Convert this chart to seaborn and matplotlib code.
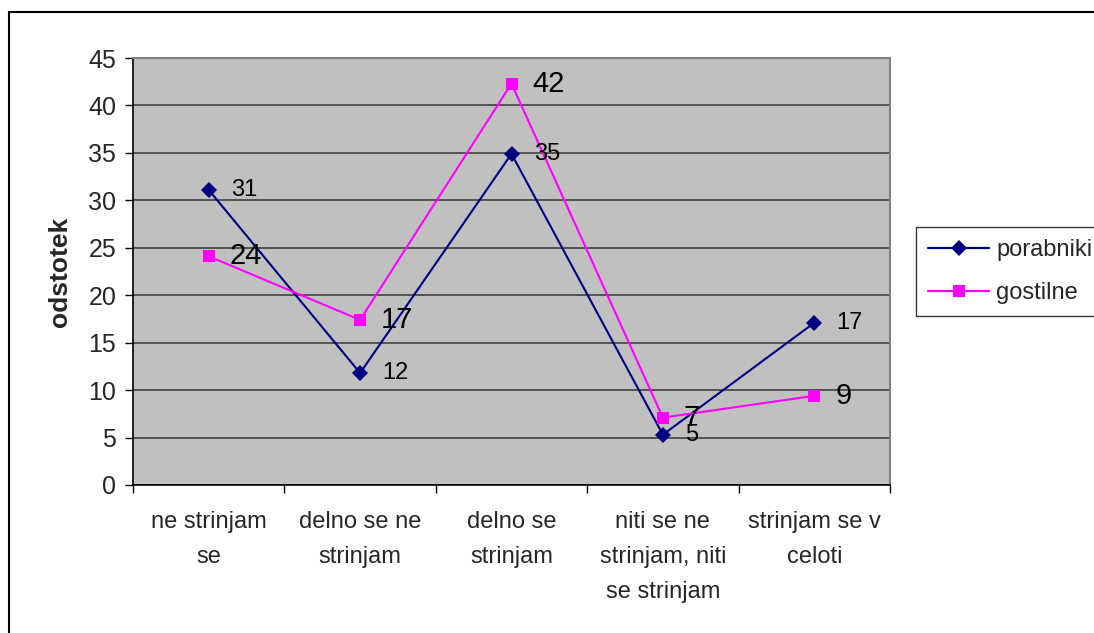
import numpy as np
import pandas as pd
import matplotlib
matplotlib.use("Agg")
import matplotlib.pyplot as plt
from matplotlib.patches import Rectangle
from matplotlib.lines import Line2D
import seaborn as sns

# Survey answers (percent of respondents)
categories = [
    "ne strinjam\nse",
    "delno se ne\nstrinjam",
    "delno se\nstrinjam",
    "niti se ne\nstrinjam, niti\nse strinjam",
    "strinjam se v\nceloti",
]
porabniki = [31.1, 11.8, 34.9, 5.3, 17.1]
gostilne = [24.1, 17.4, 42.3, 7.1, 9.4]
series_names = ["porabniki", "gostilne"]
y_ticks = [0, 5, 10, 15, 20, 25, 30, 35, 40, 45]

navy = "#000080"
magenta = "#FF00FF"

sns.set_theme(style="white")
plt.rcParams["font.family"] = ["Liberation Sans", "DejaVu Sans"]

fig = plt.figure(figsize=(10.94, 6.33), dpi=100)
ax = fig.add_axes([133 / 1094, 1 - 485 / 633, (890 - 133) / 1094, (485 - 58) / 633])
ax.set_facecolor("#C0C0C0")

pos = np.arange(len(categories))
df = pd.DataFrame({
    "pos": np.concatenate([pos, pos]),
    "val": porabniki + gostilne,
    "serie": [series_names[0]] * len(pos) + [series_names[1]] * len(pos),
})

sns.lineplot(data=df, x="pos", y="val", hue="serie", style="serie",
             palette={"porabniki": navy, "gostilne": magenta},
             markers={"porabniki": "D", "gostilne": "s"}, dashes=False,
             markersize=8.5, markeredgewidth=0, linewidth=1.5,
             legend=False, ax=ax, zorder=3)

# Value labels right of each marker
for x, v in zip(pos, porabniki):
    ax.annotate(f"{v:.0f}", (x, v), xytext=(16, 0), textcoords="offset points",
                va="center", ha="left", fontsize=17, color="black", zorder=4)
for x, v in zip(pos, gostilne):
    ax.annotate(f"{v:.0f}", (x, v), xytext=(15, 0), textcoords="offset points",
                va="center", ha="left", fontsize=21, color="black", zorder=4)

ax.set_xlim(-0.5, len(categories) - 0.5)
ax.set_ylim(0, 45)
ax.set_yticks(y_ticks)
ax.set_yticklabels([str(t) for t in y_ticks], fontsize=18)
ax.grid(axis="y", color="#404040", linewidth=1.2)
ax.set_axisbelow(True)

ax.set_xticks(pos)
ax.set_xticklabels(categories, fontsize=17, linespacing=1.78, va="top")
ax.set_xticks(np.arange(len(categories) + 1) - 0.5, minor=True)
ax.tick_params(axis="x", which="major", length=0, pad=18.5)
ax.tick_params(axis="x", which="minor", length=6, width=1, color="black", direction="out", bottom=True)
ax.tick_params(axis="y", length=6, width=1, color="black", direction="out", left=True, pad=6)

ax.set_xlabel("")
ax.set_ylabel("odstotek", fontsize=19, fontweight="bold", labelpad=12)

for side in ["left", "bottom"]:
    ax.spines[side].set_color("black")
    ax.spines[side].set_linewidth(1.2)
for side in ["top", "right"]:
    ax.spines[side].set_color("#808080")
    ax.spines[side].set_linewidth(1.5)

handles = [
    Line2D([], [], color=navy, marker="D", markersize=8.5, markeredgewidth=0, linewidth=1.6),
    Line2D([], [], color=magenta, marker="s", markersize=8.5, markeredgewidth=0, linewidth=1.6),
]
leg = fig.legend(handles, series_names, loc="upper left", bbox_to_anchor=(916 / 1094, 1 - 227 / 633),
                 borderaxespad=0, frameon=True, fancybox=False, edgecolor="black", fontsize=17,
                 handlelength=2.6, handletextpad=0.3, borderpad=0.5, labelspacing=0.9)
leg.get_frame().set_linewidth(1.0)

# Chart-area frame running off the right and bottom edges
fig.patches.append(Rectangle((9 / 1094, -0.1), 1.2, 1.1 - 12 / 633, transform=fig.transFigure,
                             fill=False, edgecolor="black", linewidth=1.5))

fig.savefig("out.png", dpi=100)
